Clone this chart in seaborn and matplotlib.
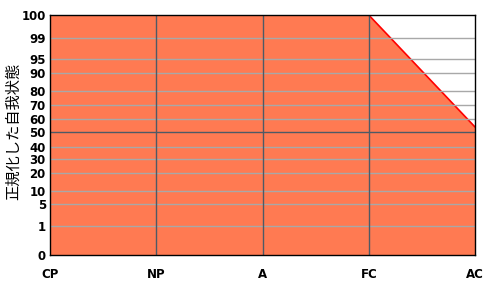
import numpy as np
import pandas as pd
import matplotlib
matplotlib.use("Agg")
import matplotlib.pyplot as plt
import seaborn as sns

categories = ["CP", "NP", "A", "FC", "AC"]
values = [100, 100, 100, 100, 54]
tick_values = [0, 1, 5, 10, 20, 30, 40, 50, 60, 70, 80, 90, 95, 99, 100]
tick_labels = ["0", "1", "5", "10", "20", "30", "40", "50", "60", "70", "80", "90", "95", "99", "100"]
ylabel = "正規化した自我状態"

# relative heights of the percentile ticks on the axis (layout of the scale)
_px = [255, 226, 204, 190.7, 173.3, 159.3, 146.7, 132.3, 119, 105, 91, 73.3, 59.3, 38.3, 15]
tick_pos = [(255 - p) / 240 for p in _px]

def fwd(v):
    return np.interp(v, tick_values, tick_pos)

def inv(p):
    return np.interp(p, tick_pos, tick_values)

sns.set_style("white")
plt.rcParams['font.family'] = ['DejaVu Sans', 'Noto Sans CJK JP']
plt.rcParams['text.color'] = 'black'
plt.rcParams['axes.labelcolor'] = 'black'
plt.rcParams['xtick.color'] = 'black'
plt.rcParams['ytick.color'] = 'black'

df = pd.DataFrame({"x": np.arange(len(categories)), "cat": categories, "v": values})

fig = plt.figure(figsize=(5, 3), dpi=100)
ax = fig.add_axes([0.1, 0.15, 0.85, 0.8])
ax.set_yscale("function", functions=(fwd, inv))

ax.fill_between(df["x"], 0, df["v"], color="#FF7A52", linewidth=0, zorder=1)
sns.lineplot(data=df, x="x", y="v", color="#FF0000", linewidth=1.2, ax=ax, zorder=2)

ax.set_xlim(0, len(categories) - 1)
ax.set_ylim(0, 100)
ax.set_yticks(tick_values)
ax.set_yticklabels(tick_labels, fontsize=8.5, fontweight="bold")
ax.set_xticks(df["x"])
ax.set_xticklabels(categories, fontsize=8.5, fontweight="bold")
ax.tick_params(axis="both", length=0)
ax.tick_params(axis="y", pad=3)
ax.tick_params(axis="x", pad=9)

# gridlines
for v in tick_values:
    if v in (0, 100):
        continue
    col = "#4E5A66" if v == 50 else "#A8A8A8"
    ax.axhline(v, color=col, linewidth=1, zorder=3)
for xi in df["x"][1:-1]:
    ax.axvline(xi, color="#4E5A66", linewidth=1, zorder=3)

for s in ax.spines.values():
    s.set_color("black")
    s.set_linewidth(1)
    s.set_zorder(5)

ax.set_xlabel("")
ax.set_ylabel(ylabel, fontsize=11, family=["Noto Sans CJK JP", "DejaVu Sans"])
ax.yaxis.set_label_coords(-0.066, 0.517)

fig.savefig("out.png", dpi=100)
